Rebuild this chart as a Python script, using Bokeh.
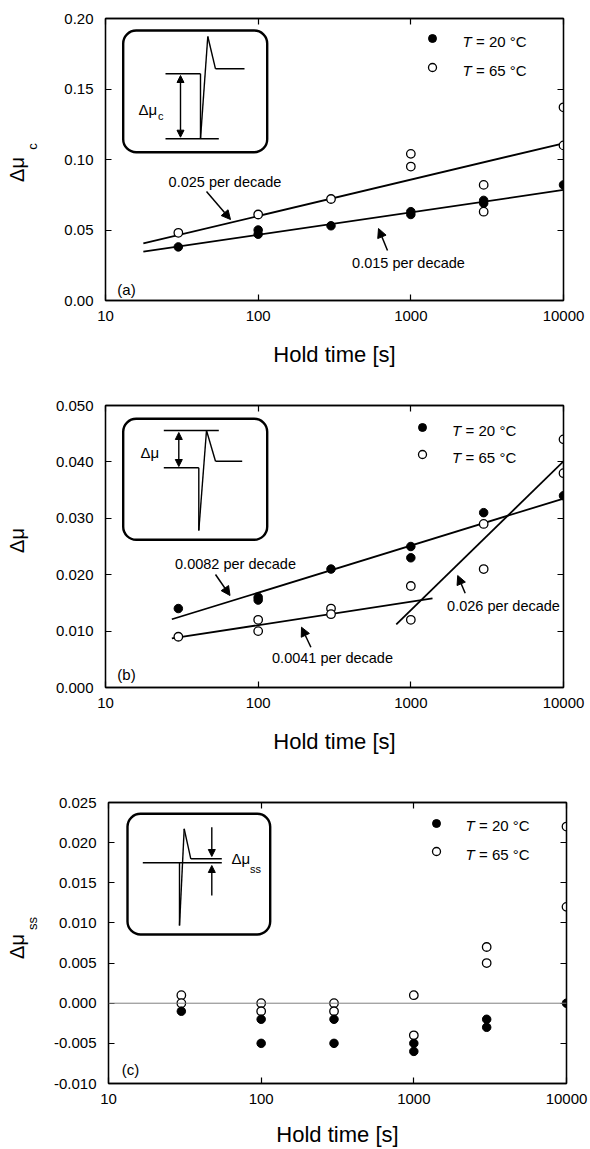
import math
from bokeh.plotting import figure
from bokeh.core.properties import value
from bokeh.models import (LogAxis, LinearAxis, FixedTicker, PrintfTickFormatter, CustomJSTickFormatter,
                          Label, Arrow, NormalHead, BoxAnnotation, Span, Legend, LegendItem, Range1d)
from bokeh.layouts import column, row
from bokeh.embed import file_html
from bokeh.resources import INLINE

FONT = "Liberation Sans"

# ---------------- data ----------------
hold_ticks = [10, 100, 1000, 10000]
x_label = "Hold time [s]"
legend_20 = "= 20 °C"
legend_65 = "= 65 °C"

# panel (a)  Δμc
a_x20 = [30, 100, 100, 300, 1000, 1000, 3000, 3000, 10000]
a_y20 = [0.038, 0.050, 0.047, 0.053, 0.063, 0.061, 0.071, 0.069, 0.082]
a_x65 = [30, 100, 300, 1000, 1000, 3000, 3000, 10000, 10000]
a_y65 = [0.048, 0.061, 0.072, 0.104, 0.095, 0.082, 0.063, 0.137, 0.110]
a_fit20_x = [17.7, 10000]
a_fit20_y = [0.0346, 0.0784]
a_fit65_x = [17.7, 10000]
a_fit65_y = [0.0405, 0.1115]
a_yticks = [0.00, 0.05, 0.10, 0.15, 0.20]

# panel (b)  Δμ
b_x20 = [30, 100, 100, 300, 1000, 1000, 3000, 10000]
b_y20 = [0.014, 0.016, 0.0155, 0.021, 0.025, 0.023, 0.031, 0.034]
b_x65 = [30, 100, 100, 300, 300, 1000, 1000, 3000, 3000, 10000, 10000]
b_y65 = [0.009, 0.012, 0.010, 0.014, 0.013, 0.018, 0.012, 0.029, 0.021, 0.044, 0.038]
b_fit20_x = [27.2, 10000]
b_fit20_y = [0.0121, 0.0335]
b_fit65a_x = [27.2, 1387]
b_fit65a_y = [0.0087, 0.0158]
b_fit65b_x = [803, 10000]
b_fit65b_y = [0.0112, 0.0401]
b_yticks = [0.000, 0.010, 0.020, 0.030, 0.040, 0.050]

# panel (c)  Δμss
c_x20 = [30, 100, 100, 300, 300, 1000, 1000, 3000, 3000, 10000]
c_y20 = [-0.001, -0.002, -0.005, -0.002, -0.005, -0.005, -0.006, -0.002, -0.003, 0.000]
c_x65 = [30, 30, 100, 100, 300, 300, 1000, 1000, 3000, 3000, 10000, 10000]
c_y65 = [0.001, 0.000, 0.000, -0.001, 0.000, -0.001, 0.001, -0.004, 0.007, 0.005, 0.022, 0.012]
c_yticks = [-0.010, -0.005, 0.000, 0.005, 0.010, 0.015, 0.020, 0.025]

# ---------------- layout helpers (page pixel positions) ----------------
LBL_W = 50      # width of the y-title strip
FRAME_L = 105   # page x of the plot frame's left edge
FRAME_W = 458
BLANK = "return ''"
STRIP_DY = -16  # correction for the strip's vertical placement


class Panel:
    def __init__(self, p, left, bottom):
        self.p = p
        self.left = left
        self.fb = bottom

    def sx(self, px):
        return px - self.left

    def sy(self, py):
        return self.fb - py

    def text(self, px, py, txt, size=14, align="center", baseline="middle",
             style="normal", angle=0.0):
        self.p.add_layout(Label(x=self.sx(px), y=self.sy(py), x_units="screen", y_units="screen",
                                text=txt, text_font=FONT, text_font_size=f"{size}px",
                                text_font_style=style, text_align=align, text_baseline=baseline,
                                text_color="black", angle=angle))

    def gtext(self, px, py, txt, size, angle=0.0):
        # centred text glyph in data units; the strip's ranges are its pixel sizes
        self.p.text(x=[self.sx(px)], y=[self.sy(py + STRIP_DY)], text=[txt], angle=angle,
                    text_font=value(FONT), text_font_size=value(f"{size}px"),
                    text_align="center", text_baseline="middle", text_color="black")

    def seg(self, x0, y0, x1, y1, lw=1.4, head_end=False, head_start=False, head_size=8):
        def head():
            return NormalHead(size=head_size, fill_color="black", line_color="black", line_width=1)
        self.p.add_layout(Arrow(x_start=self.sx(x0), y_start=self.sy(y0), x_end=self.sx(x1), y_end=self.sy(y1),
                                start_units="screen", end_units="screen",
                                start=head() if head_start else None, end=head() if head_end else None,
                                line_color="black", line_width=lw))

    def box(self, x0, y0, x1, y1):
        self.p.add_layout(BoxAnnotation(left=self.sx(x0), right=self.sx(x1),
                                        top=self.sy(y0), bottom=self.sy(y1),
                                        left_units="screen", right_units="screen",
                                        top_units="screen", bottom_units="screen",
                                        border_radius=13, fill_alpha=0, line_color="black",
                                        line_alpha=1.0, line_width=2.4))

    def legend(self, r20, r65, mx, my20, my65, tx):
        g = 20
        items = [LegendItem(label=" ", renderers=[r20]), LegendItem(label=" ", renderers=[r65])]
        lg = Legend(items=items, location=(self.sx(mx) - g / 2, self.sy(my65 + g / 2)),
                    glyph_width=g, glyph_height=g, label_height=g, label_width=1,
                    label_standoff=0, spacing=int(round(my65 - my20 - g)), padding=0, margin=0,
                    border_line_color=None, background_fill_alpha=0,
                    label_text_font_size="1px")
        self.p.add_layout(lg)
        for yy, rest in ((my20, legend_20), (my65, legend_65)):
            self.text(tx, yy + 3, "T", size=15, align="left", style="italic")
            self.text(tx + 13.5, yy + 3, rest, size=15, align="left")


def make_panel(ylo, yhi, yticks, fmt, frame_h, fig_top, border_top, border_bottom, label_standoff=18):
    p = figure(title=None, x_axis_type="log", x_range=Range1d(10, 10000), y_range=Range1d(ylo, yhi),
               frame_width=FRAME_W, frame_height=frame_h,
               min_border_left=FRAME_L - LBL_W, min_border_right=590 - FRAME_L - FRAME_W,
               min_border_top=border_top, min_border_bottom=border_bottom,
               output_backend="svg", toolbar_location=None)
    p.grid.visible = False
    p.outline_line_color = "black"
    p.outline_line_width = 1.3

    xa = p.xaxis[0]
    xa.ticker = FixedTicker(ticks=hold_ticks)
    xa.formatter = PrintfTickFormatter(format="%d")
    xa.axis_label = x_label
    ya = p.yaxis[0]
    ya.ticker = FixedTicker(ticks=yticks)
    ya.formatter = PrintfTickFormatter(format=fmt)
    for ax in (xa, ya):
        ax.major_tick_in = 6
        ax.major_tick_out = 0
        ax.minor_tick_line_color = None
        ax.axis_line_color = "black"
        ax.axis_line_width = 1.3
        ax.major_tick_line_color = "black"
        ax.major_tick_line_width = 1.2
        ax.major_label_text_font = FONT
        ax.major_label_text_font_size = "15px"
        ax.major_label_text_color = "black"
    xa.major_label_standoff = 10
    ya.major_label_standoff = 12
    xa.axis_label_text_font = FONT
    xa.axis_label_text_font_size = "22px"
    xa.axis_label_text_font_style = "normal"
    xa.axis_label_text_color = "black"
    xa.axis_label_standoff = label_standoff

    top = LogAxis(ticker=FixedTicker(ticks=hold_ticks), formatter=CustomJSTickFormatter(code=BLANK),
                  major_tick_in=6, major_tick_out=0, minor_tick_line_color=None,
                  major_label_standoff=0, axis_line_color="black", axis_line_width=1.3,
                  major_tick_line_width=1.2)
    right = LinearAxis(ticker=FixedTicker(ticks=yticks), formatter=CustomJSTickFormatter(code=BLANK),
                       major_tick_in=6, major_tick_out=0, minor_tick_line_color=None,
                       major_label_standoff=0, axis_line_color="black", axis_line_width=1.3,
                       major_tick_line_width=1.2)
    p.add_layout(top, "above")
    p.add_layout(right, "right")

    height = border_top + frame_h + border_bottom
    lf = figure(title=None, frame_width=LBL_W, frame_height=height,
                x_range=Range1d(0, LBL_W), y_range=Range1d(0, height),
                min_border=0, min_border_left=0, min_border_right=0, min_border_top=0, min_border_bottom=0,
                toolbar_location=None, output_backend="svg",
                x_axis_location=None, y_axis_location=None)
    lf.outline_line_color = None
    lf.grid.visible = False
    return Panel(p, FRAME_L, fig_top + border_top + frame_h), Panel(lf, 0, fig_top + height)


def points(P, x20, y20, x65, y65):
    r65 = P.p.scatter(x65, y65, size=8.5, marker="circle", fill_color="white",
                      line_color="black", line_width=1.3)
    r20 = P.p.scatter(x20, y20, size=8.5, marker="circle", fill_color="black",
                      line_color="black", line_width=1)
    return r20, r65


# ---------------- panel (a) ----------------
A, LA = make_panel(0.0, 0.20, a_yticks, "%.2f", 282, 0, 18, 95)
A.p.line(a_fit65_x, a_fit65_y, line_color="black", line_width=1.8)
A.p.line(a_fit20_x, a_fit20_y, line_color="black", line_width=1.8)
ra20, ra65 = points(A, a_x20, a_y20, a_x65, a_y65)
A.legend(ra20, ra65, 432, 38, 67, 462)
A.text(224.5, 181, "0.025 per decade", size=14.5)
A.seg(206, 191, 230, 219, lw=1.5, head_end=True, head_size=9)
A.text(408, 262.5, "0.015 per decade", size=14.5)
A.seg(387, 250, 378, 228, lw=1.5, head_end=True, head_size=9)
A.text(126, 289, "(a)", size=15)
LA.gtext(16, 167, "Δμ", 20, angle=math.pi / 2)
LA.gtext(32, 144, "c", 13, angle=math.pi / 2)
# inset (a)
A.box(122.7, 30, 266.7, 151.7)
A.seg(165, 73.3, 200, 73.3)
A.seg(200, 73.3, 200, 138.3)
A.seg(200, 138.3, 207.3, 36)
A.seg(207.3, 36, 215, 68.3)
A.seg(215, 68.3, 244, 68.3)
A.seg(165, 138.3, 218.3, 138.3)
A.seg(180, 75, 180, 136.7, head_end=True, head_start=True, head_size=7)
A.text(138, 109, "Δμ", size=15, align="left")
A.text(157.5, 115, "c", size=11, align="left")

# ---------------- panel (b) ----------------
B, LB = make_panel(0.0, 0.050, b_yticks, "%.3f", 282, 395, 10, 105)
B.p.line(b_fit20_x, b_fit20_y, line_color="black", line_width=1.8)
B.p.line(b_fit65a_x, b_fit65a_y, line_color="black", line_width=1.8)
B.p.line(b_fit65b_x, b_fit65b_y, line_color="black", line_width=1.8)
rb20, rb65 = points(B, b_x20, b_y20, b_x65, b_y65)
B.legend(rb20, rb65, 422, 427, 454, 451.6)
B.text(235, 563, "0.0082 per decade", size=14.5)
B.seg(215, 574, 229.5, 595, lw=1.5, head_end=True, head_size=9)
B.text(332, 657.7, "0.0041 per decade", size=14.5)
B.seg(310.4, 646.7, 301, 626.7, lw=1.5, head_end=True, head_size=9)
B.text(503, 605.7, "0.026 per decade", size=14.5)
B.seg(464.7, 592.7, 457.2, 575, lw=1.5, head_end=True, head_size=9)
B.text(126, 674, "(b)", size=15)
LB.gtext(16, 546, "Δμ", 20, angle=math.pi / 2)
# inset (b)
B.box(122.7, 418.3, 266.7, 539.3)
B.seg(163.3, 430, 218.3, 430)
B.seg(163.3, 467.3, 198.3, 467.3)
B.seg(198.3, 467.3, 198.3, 530)
B.seg(198.3, 530, 206, 430)
B.seg(206, 430, 215, 460.7)
B.seg(215, 460.7, 241.7, 460.7)
B.seg(178.3, 432, 178.3, 466, head_end=True, head_start=True, head_size=7)
B.text(140, 451.7, "Δμ", size=15, align="left")

# ---------------- panel (c) ----------------
C, LC = make_panel(-0.010, 0.025, c_yticks, "%.3f", 281, 792, 10, 65, label_standoff=15)
C.p.add_layout(Span(location=0, dimension="width", line_color="#808080", line_width=1))
rc20, rc65 = points(C, c_x20, c_y20, c_x65, c_y65)
C.legend(rc20, rc65, 432.7, 822.3, 850.7, 462)
C.text(127, 1069, "(c)", size=15)
LC.gtext(16, 952, "Δμ", 20, angle=math.pi / 2)
LC.gtext(32, 929, "ss", 13, angle=math.pi / 2)
# inset (c)
C.box(124, 813.3, 266.7, 934)
C.seg(139.3, 862.3, 218.3, 862.3)
C.seg(176, 862.3, 176, 925)
C.seg(176, 925, 180.7, 828.3)
C.seg(180.7, 828.3, 187.3, 858.3)
C.seg(187.3, 858.3, 218.3, 858.3)
C.seg(208.3, 826.7, 208.3, 856, head_end=True, head_size=7)
C.seg(208.3, 895, 208.3, 865, head_end=True, head_size=7)
C.text(228, 858, "Δμ", size=15, align="left")
C.text(246.5, 868, "ss", size=11, align="left")

layout = column(row(LA.p, A.p, spacing=0), row(LB.p, B.p, spacing=0), row(LC.p, C.p, spacing=0),
                spacing=0)
open("out.html", "w").write(file_html(layout, INLINE))
